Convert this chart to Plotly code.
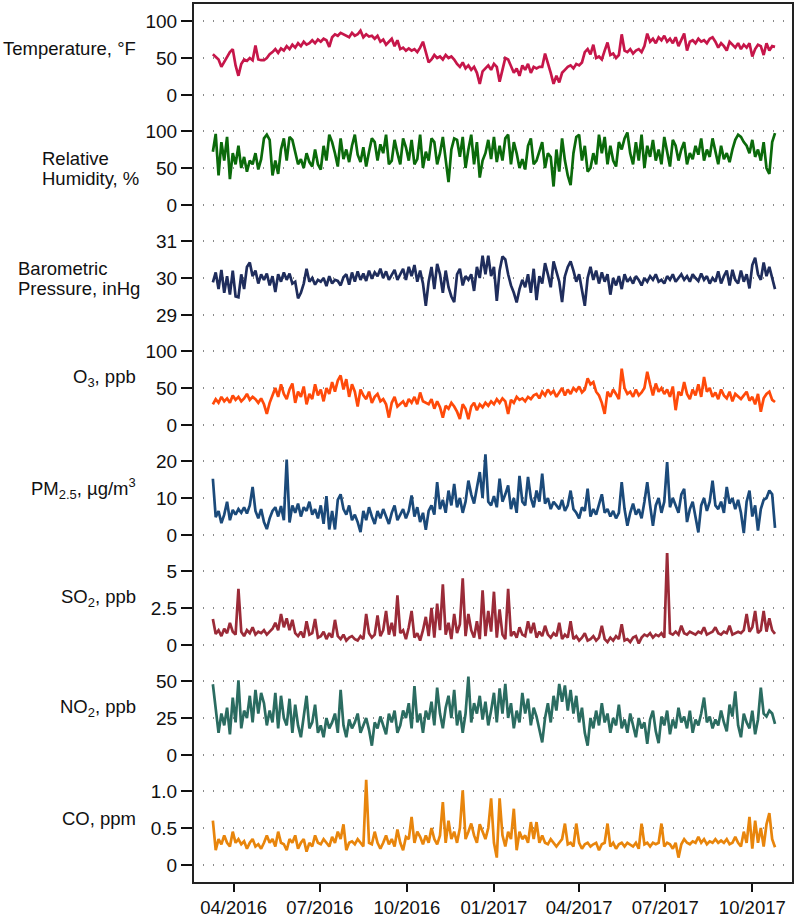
import pandas as pd
import plotly.graph_objects as go

# ---------------- data (daily air-quality/meteorology, sampled every 3 days) ----------------
start_date = "2016-03-10"
sample_freq = "3D"

temperature = [
    55, 52, 48, 38, 45, 50, 58, 62, 40, 26,
    42, 48, 46, 50, 47, 67, 48, 47, 47, 50,
    55, 58, 62, 57, 63, 60, 66, 62, 68, 64,
    70, 66, 72, 68, 70, 74, 70, 75, 72, 76,
    74, 65, 78, 82, 80, 84, 82, 80, 78, 84,
    80, 82, 87, 78, 82, 79, 80, 76, 80, 72,
    75, 68, 72, 76, 66, 74,
    62, 64, 60, 63, 60, 62, 58, 64, 72, 56,
    44, 48, 54, 50, 52, 48, 54, 50, 52, 48,
    42, 38, 44, 36, 40, 34, 38, 30, 15, 32,
    36, 40, 34, 42, 38, 18, 34, 50, 48, 38,
    30, 36, 26, 40, 34, 42, 30, 38, 36, 38,
    38, 56, 44, 30, 15, 26, 17, 30, 34, 38,
    40, 36, 42, 40, 44, 58, 62, 55, 68, 50,
    52, 48, 60, 71, 54, 56, 50, 54, 82, 60,
    58, 62, 56, 60, 62, 58, 66, 83, 72, 76,
    70, 78, 74, 80, 72, 76, 70, 78, 66, 74,
    83, 60, 72, 74, 70, 76, 72, 74, 70, 76,
    78, 72, 64, 70, 66, 60, 72, 68, 64, 70,
    62, 68, 64, 70, 52, 62, 68, 66, 54, 70,
    60, 66, 65,
]

humidity = [
    72, 96, 40, 85, 60, 92, 35, 70, 55, 80,
    50, 65, 45, 60, 55, 70, 48, 62, 90, 95,
    88, 40, 60, 42, 75, 90, 60, 92, 88, 70,
    55, 62, 50, 70, 58, 52, 75, 55, 48, 80,
    60, 95, 85, 70, 52, 90, 62, 75, 58, 80,
    95, 68, 58, 78, 52, 72, 90, 85, 60, 82,
    70, 95, 55, 60, 88, 70,
    55, 90, 78, 60, 88, 55, 62, 95, 50, 72,
    60, 90, 85, 55, 70, 92, 62, 31, 75, 90,
    88, 65, 92, 50, 75, 95, 55, 85, 37, 60,
    70, 88, 62, 92, 58, 80, 60, 90, 95, 55,
    85, 70, 50, 62, 48, 80, 90, 55, 60, 72,
    85, 50, 70, 65, 25, 75, 45, 90, 60, 40,
    27, 70, 92, 95, 60, 80, 45, 50, 70, 55,
    95, 70, 92, 55, 80, 60, 52, 85, 75, 90,
    98, 70, 55, 85, 60, 95, 50, 80, 65, 88,
    60, 75, 55, 92, 70, 52, 88, 80, 60, 75,
    85, 55, 70, 62, 80, 68, 90, 60, 75, 65,
    90, 70, 55, 80, 62, 70, 58, 75, 88, 95,
    92, 85, 80, 70, 88, 65, 75, 60, 85, 50,
    42, 85, 97,
]

pressure = [
    29.88, 30.15, 29.70, 30.22, 29.60, 30.05, 29.55, 30.20, 29.50, 29.48,
    30.10, 29.70, 30.30, 30.42, 30.05, 30.20, 29.85, 30.10, 29.95, 30.12,
    29.80, 30.05, 29.62, 30.10, 29.90, 30.15, 29.95, 30.12, 29.85, 29.90,
    29.45, 29.60, 29.85, 30.25, 29.90, 30.00, 29.82, 29.95, 29.90, 30.00,
    29.78, 30.05, 29.85, 29.95, 29.92, 29.80, 30.02, 30.10, 29.82, 30.15,
    29.90, 30.18, 29.95, 30.12, 29.92, 30.20, 29.98, 30.15, 30.05, 30.25,
    30.00, 30.18, 29.95, 30.10, 30.22, 29.95,
    30.10, 30.25, 29.95, 30.30, 30.05, 30.35, 29.90, 30.20, 29.85, 29.25,
    29.90, 30.30, 29.70, 30.38, 30.10, 29.60, 30.20, 29.75, 29.50, 29.35,
    30.10, 30.25, 29.80, 30.05, 29.95, 30.10, 29.65, 30.30, 30.00, 30.60,
    30.10, 30.60, 30.05, 30.30, 29.38, 30.20, 30.58, 30.50, 30.10, 29.80,
    29.60, 29.34, 29.70, 29.95, 29.75, 30.10, 29.60, 30.25, 29.40, 30.05,
    29.85, 30.40, 30.10, 29.75, 30.45, 30.20, 29.90, 29.35, 30.05, 30.30,
    30.45, 30.20, 29.90, 30.10, 29.70, 29.25, 30.00, 30.30, 29.95, 30.20,
    29.85, 30.15, 29.90, 30.10, 29.55, 30.00, 29.80, 30.05, 29.70, 30.10,
    29.90, 30.00, 29.85, 30.05, 29.95, 29.80, 30.00, 29.90, 30.05, 29.95,
    30.10, 29.90, 29.95, 29.85, 30.05, 29.95, 30.10, 29.90, 30.00, 30.10,
    29.95, 30.05, 29.90, 30.10, 30.00, 29.92, 30.12, 29.95, 30.05, 29.85,
    30.00, 29.90, 30.18, 29.85, 30.05, 30.20, 29.80, 30.22, 29.95, 29.85,
    30.20, 29.90, 30.10, 29.72, 30.35, 30.55, 30.10, 29.95, 30.42, 30.05,
    30.30, 30.00, 29.70,
]

ozone = [
    28, 35, 30, 38, 32, 36, 30, 40, 34, 38,
    32, 36, 42, 34, 38, 35, 30, 36, 28, 15,
    30, 40, 50, 38, 55, 42, 35, 48, 56, 30,
    45, 38, 52, 28, 42, 35, 55, 40, 48, 32,
    50, 42, 58, 45, 60, 67, 48, 62, 38, 55,
    45, 25, 48, 40, 35, 45, 30, 38, 42, 32,
    35, 28, 10, 30, 38, 25,
    28, 32, 25, 35, 30, 38, 28, 44, 32, 30,
    28, 35, 22, 32, 24, 10, 26, 22, 30, 25,
    18, 8, 28, 22, 8, 25, 30, 20, 28, 24,
    30, 26, 32, 28, 35, 30, 36, 32, 15, 34,
    30, 38, 34, 36, 32, 38, 35, 40, 42, 36,
    45, 40, 48, 42, 46, 38, 44, 50, 40, 48,
    42, 50, 46, 52, 44, 48, 63, 55, 58, 45,
    40, 30, 15, 45, 38, 48, 42, 35, 76, 50,
    42, 45, 38, 48, 40, 44, 50, 72, 55, 40,
    56, 45, 50, 42, 48, 38, 52, 20, 45, 40,
    58, 42, 35, 48, 40, 55, 38, 65, 45, 50,
    38, 44, 35, 48, 40, 36, 45, 32, 42, 38,
    35, 40, 45, 33, 38, 28, 42, 18, 36, 42,
    45, 34, 31,
]

pm25 = [
    15.2, 4.8, 6.5, 3.2, 5.5, 9.0, 4.0, 6.8, 5.5, 7.0,
    6.0, 7.5, 5.8, 8.0, 13.0, 6.5, 4.5, 7.0, 3.5, 1.6,
    4.5, 6.5, 7.5, 5.0, 7.8, 4.0, 20.4, 3.4, 8.0, 6.0,
    8.5, 5.0, 7.5, 6.5, 9.0, 5.5, 7.0, 4.5, 8.0, 3.0,
    10.5, 1.5, 6.5, 1.5, 9.5, 11.0, 7.0, 5.5, 8.0, 4.0,
    5.5, 3.5, 0.8, 6.5, 4.0, 7.5, 5.0, 3.0, 6.5, 4.5,
    7.0, 5.0, 3.0, 6.0, 8.0, 4.0,
    5.5, 7.0, 4.5, 6.5, 10.7, 5.0, 7.5, 3.5, 6.0, 1.4,
    6.5, 8.0, 5.5, 14.3, 7.0, 9.5, 6.0, 12.0, 8.0, 13.8,
    7.5, 10.0, 6.0, 9.0, 14.7, 11.0, 8.5, 12.5, 17.0, 10.0,
    21.8, 9.0, 8.0, 10.5, 7.5, 15.2, 9.0, 11.0, 13.4, 7.0,
    10.0, 6.0, 16.0, 9.0, 8.0, 15.7, 10.0, 7.5, 12.0, 9.0,
    16.6, 8.5, 10.0, 7.0, 9.0, 8.0, 7.0, 9.5, 6.5, 8.0,
    12.0, 7.0, 6.0, 4.5, 7.5, 6.5, 12.5, 5.0, 7.0, 5.5,
    8.0, 11.0, 6.0, 7.0, 5.0, 6.5, 4.5, 6.0, 14.3, 7.0,
    2.5, 6.0, 8.5, 5.5, 7.0, 4.5, 9.0, 14.3, 8.0, 2.5,
    8.0, 10.0, 6.0, 9.0, 19.7, 7.5, 10.0, 8.0, 6.0, 11.0,
    12.5, 3.5, 7.0, 9.0, 5.0, 0.7, 8.0, 10.0, 6.5, 9.0,
    14.7, 8.0, 7.0, 9.0, 6.0, 13.0, 8.5, 10.0, 7.0, 9.5,
    6.0, 0.5, 9.0, 12.0, 5.0, 8.0, 1.2, 7.0, 9.5, 10.0,
    12.0, 11.0, 1.9,
]

so2 = [
    1.76, 0.75, 1.0, 0.6, 1.1, 0.8, 1.5, 0.9, 0.7, 3.8,
    0.9, 0.6, 1.0, 0.8, 1.2, 0.7, 0.9, 0.8, 1.0, 0.7,
    0.9, 1.1, 1.5, 1.0, 2.1, 1.2, 1.8, 1.0, 1.7, 0.8,
    0.6, 0.9, 0.5, 1.6, 0.7, 0.8, 1.76, 0.5, 0.6, 0.9,
    0.4, 0.8, 0.5, 1.7, 0.6, 0.4, 0.7, 0.3, 0.5, 0.6,
    0.4, 0.3, 0.6, 0.4, 2.1, 0.8, 0.5, 0.7, 2.0, 0.6,
    1.0, 2.3, 0.7, 1.5, 0.6, 3.35,
    0.8, 1.0, 0.4, 1.2, 2.3, 0.5, 0.8, 0.3, 1.0, 1.9,
    0.6, 2.5, 0.5, 2.8, 1.0, 4.1, 0.7, 1.5, 0.4, 2.1,
    0.8, 1.4, 4.5, 0.6, 2.1, 1.0, 0.5, 1.6, 0.4, 3.7,
    0.6, 2.3, 0.9, 3.6, 0.5, 2.4, 0.7, 0.4, 3.8, 0.6,
    0.9, 0.5, 1.2, 0.7, 0.6, 1.6, 0.8, 1.5, 0.5, 0.9,
    0.6, 1.3, 0.7, 0.5, 0.8, 0.6, 1.5, 0.4, 0.7, 0.5,
    1.6, 0.4, 0.6, 0.3, 0.5, 0.8, 0.3, 0.4, 0.6, 0.3,
    0.5, 1.3, 0.4, 0.2, 0.5, 0.3, 0.6, 0.4, 1.4, 0.3,
    0.4, 0.2, 0.5, 0.6, 0.1, 0.5, 0.7, 0.6, 0.8, 0.5,
    0.7, 0.6, 0.8, 0.5, 6.3, 0.8, 0.7, 0.9, 0.7, 1.3,
    0.8, 0.7, 0.9, 0.8, 0.7, 0.9, 0.8, 1.2, 0.7, 0.8,
    0.9, 1.2, 0.8, 0.7, 0.9, 0.8, 1.3, 0.7, 0.8, 0.9,
    0.8, 1.0, 2.1, 0.9, 1.2, 2.3, 0.8, 1.0, 2.3, 0.9,
    1.8, 1.0, 0.75,
]

no2 = [
    47.8, 30, 15, 28, 20, 32, 14, 38.8, 22, 50.4,
    18, 30, 25, 40, 22, 44, 28, 42, 35, 20,
    30, 22, 42, 18, 40, 25, 20, 38, 15, 34,
    20, 12, 25, 40, 18, 22, 34, 15, 20, 12,
    25, 18, 22, 28, 15, 44, 20, 12, 24, 18,
    22, 28, 15, 20, 25, 17, 6.3, 22, 18, 26,
    20, 14, 28, 22, 30, 15,
    20, 30, 25, 35, 18, 46.6, 22, 28, 15, 30,
    24, 36, 20, 45.5, 28, 18, 32, 40, 25, 44,
    20, 30, 15, 28, 53, 22, 35, 28, 40, 24,
    36, 20, 30, 42, 22, 45, 28, 48, 25, 35,
    18, 30, 22, 42, 28, 38, 20, 32, 26, 16,
    8.5, 25, 35, 22, 40, 30, 48, 36, 47, 30,
    44, 28, 40, 22, 32, 15, 6.3, 25, 18, 30,
    20, 35, 22, 28, 15, 25, 20, 34, 18, 24,
    15, 28, 20, 12, 25, 18, 22, 7.5, 24, 30,
    16, 8, 26, 20, 30, 14, 24, 18, 32, 22,
    26, 18, 30, 15, 24, 20, 28, 38.8, 22, 26,
    18, 24, 20, 30, 22, 16, 34, 26, 43, 20,
    12, 28, 22, 18, 30, 14, 24, 45.5, 28, 26,
    30, 28, 21,
]

co = [
    0.60, 0.20, 0.35, 0.28, 0.40, 0.30, 0.25, 0.45, 0.30, 0.35,
    0.28, 0.32, 0.22, 0.30, 0.35, 0.25, 0.28, 0.22, 0.30, 0.40,
    0.30, 0.35, 0.25, 0.45, 0.30, 0.28, 0.20, 0.35, 0.30, 0.40,
    0.22, 0.30, 0.35, 0.18, 0.30, 0.25, 0.40, 0.30, 0.28, 0.35,
    0.30, 0.25, 0.38, 0.30, 0.45, 0.35, 0.55, 0.20, 0.30, 0.32,
    0.28, 0.35, 0.30, 0.25, 1.15, 0.30, 0.28, 0.45, 0.30, 0.22,
    0.30, 0.40, 0.28, 0.35, 0.25, 0.48,
    0.30, 0.20, 0.38, 0.35, 0.65, 0.30, 0.45, 0.38, 0.28, 0.40,
    0.30, 0.50, 0.35, 0.28, 0.40, 0.85, 0.30, 0.60, 0.35, 0.45,
    0.30, 0.50, 1.01, 0.35, 0.45, 0.56, 0.40, 0.30, 0.55, 0.45,
    0.35, 0.50, 0.90, 0.30, 0.10, 0.90, 0.40, 0.25, 0.45, 0.35,
    0.76, 0.20, 0.45, 0.35, 0.40, 0.30, 0.58, 0.35, 0.58, 0.30,
    0.40, 0.30, 0.28, 0.35, 0.30, 0.25, 0.30, 0.35, 0.56, 0.28,
    0.30, 0.25, 0.56, 0.30, 0.22, 0.28, 0.30, 0.25, 0.28, 0.30,
    0.20, 0.28, 0.30, 0.56, 0.25, 0.30, 0.22, 0.28, 0.30, 0.25,
    0.30, 0.28, 0.25, 0.30, 0.22, 0.56, 0.28, 0.30, 0.25, 0.30,
    0.28, 0.30, 0.56, 0.25, 0.30, 0.28, 0.22, 0.30, 0.10, 0.28,
    0.35, 0.30, 0.28, 0.32, 0.30, 0.38, 0.30, 0.35, 0.28, 0.32,
    0.30, 0.35, 0.30, 0.33, 0.30, 0.35, 0.28, 0.30, 0.38, 0.30,
    0.25, 0.45, 0.30, 0.65, 0.22, 0.60, 0.30, 0.50, 0.25, 0.55,
    0.70, 0.35, 0.24,
]

# x-axis ticks
x_tick_dates = ["2016-04-01", "2016-07-01", "2016-10-01", "2017-01-01",
                "2017-04-01", "2017-07-01", "2017-10-01"]
x_tick_labels = ["04/2016", "07/2016", "10/2016", "01/2017",
                 "04/2017", "07/2017", "10/2017"]
x_range = ["2016-02-18", "2017-11-13"]

# panel definitions: values, colour, tick values, tick labels, label lines
panels = [
    (temperature, "#C6164A", [0, 50, 100], ["0", "50", "100"], ["Temperature, °F"]),
    (humidity, "#0B6A0B", [0, 50, 100], ["0", "50", "100"], ["Relative", "Humidity, %"]),
    (pressure, "#1F2D5C", [29, 30, 31], ["29", "30", "31"], ["Barometric", "Pressure, inHg"]),
    (ozone, "#FF4A0A", [0, 50, 100], ["0", "50", "100"], ["O<sub>3</sub>, ppb"]),
    (pm25, "#1B4A7A", [0, 10, 20], ["0", "10", "20"], ["PM<sub>2.5</sub>, µg/m<sup>3</sup>"]),
    (so2, "#9B2B38", [0, 2.5, 5], ["0", "2.5", "5"], ["SO<sub>2</sub>, ppb"]),
    (no2, "#2B6C61", [0, 25, 50], ["0", "25", "50"], ["NO<sub>2</sub>, ppb"]),
    (co, "#E8850C", [0, 0.5, 1.0], ["0", "0.5", "1.0"], ["CO, ppm"]),
]

# ---------------- figure ----------------
W, H = 800, 917
ML, MR, MT, MB = 193, 7, 3, 34
PW, PH = W - ML - MR, H - MT - MB
FONT = "Arial, Liberation Sans, sans-serif"
LABEL_SIZE = 18.5
TICK_SIZE = 19


def px_x(x):
    return (x - ML) / PW


def px_y(y):
    return (H - MB - y) / PH


fig = go.Figure()
n = len(panels)
annotations = []
slot_px = PH / n

for k, (vals, color, tv, tt, label) in enumerate(panels):
    yname = "y" if k == 0 else f"y{k+1}"
    ykey = "yaxis" if k == 0 else f"yaxis{k+1}"
    dates = pd.date_range(start_date, periods=len(vals), freq=sample_freq)
    fig.add_trace(go.Scatter(
        x=dates, y=vals, mode="lines", xaxis="x", yaxis=yname,
        line=dict(color=color, width=2.7), showlegend=False, hoverinfo="skip",
    ))
    lo, hi = tv[0], tv[-1]
    pad = 0.243 * (hi - lo)
    fig.layout[ykey] = dict(
        domain=[1 - (k + 1) / n, 1 - k / n],
        range=[lo - pad, hi + pad],
        tickmode="array", tickvals=tv, ticktext=tt,
        ticks="outside", ticklen=11, tickwidth=2, tickcolor="#111",
        showgrid=True, gridcolor="#8a8a8a", gridwidth=1.5, griddash="1px,9px",
        zeroline=False, showline=False, anchor="x", automargin=False,
        tickfont=dict(family=FONT, size=TICK_SIZE, color="#111"),
        fixedrange=True,
    )
    slot_top = MT + k * slot_px
    if len(label) == 1:
        annotations.append(dict(
            text=label[0], xref="paper", yref="paper",
            x=px_x(138), y=px_y(slot_top + 45), xanchor="right", yanchor="middle",
            showarrow=False, font=dict(family=FONT, size=LABEL_SIZE, color="#111"),
        ))
    else:
        left = 40 if k == 1 else 16
        for j, line in enumerate(label):
            annotations.append(dict(
                text=line, xref="paper", yref="paper",
                x=px_x(left), y=px_y(slot_top + 45 + 20 * j), xanchor="left", yanchor="middle",
                showarrow=False, font=dict(family=FONT, size=LABEL_SIZE, color="#111"),
            ))

fig.update_layout(
    width=W, height=H, autosize=False,
    margin=dict(l=ML, r=MR, t=MT, b=MB, pad=0, autoexpand=False),
    paper_bgcolor="white", plot_bgcolor="white",
    xaxis=dict(
        domain=[0, 1], anchor="y8", type="date", range=x_range,
        tickmode="array", tickvals=x_tick_dates, ticktext=x_tick_labels,
        ticks="outside", ticklen=8, tickwidth=2, tickcolor="#111",
        showgrid=False, zeroline=False, showline=False, automargin=False,
        tickfont=dict(family=FONT, size=18.5, color="#111"),
        fixedrange=True,
    ),
    shapes=[dict(type="rect", xref="paper", yref="paper", x0=0, x1=1, y0=0, y1=1,
                 line=dict(color="#222", width=2), layer="above")],
    annotations=annotations,
)

fig.write_html("out.html", config={"displayModeBar": False},
               post_script="document.body.style.margin='0';document.body.style.overflow='hidden';")
